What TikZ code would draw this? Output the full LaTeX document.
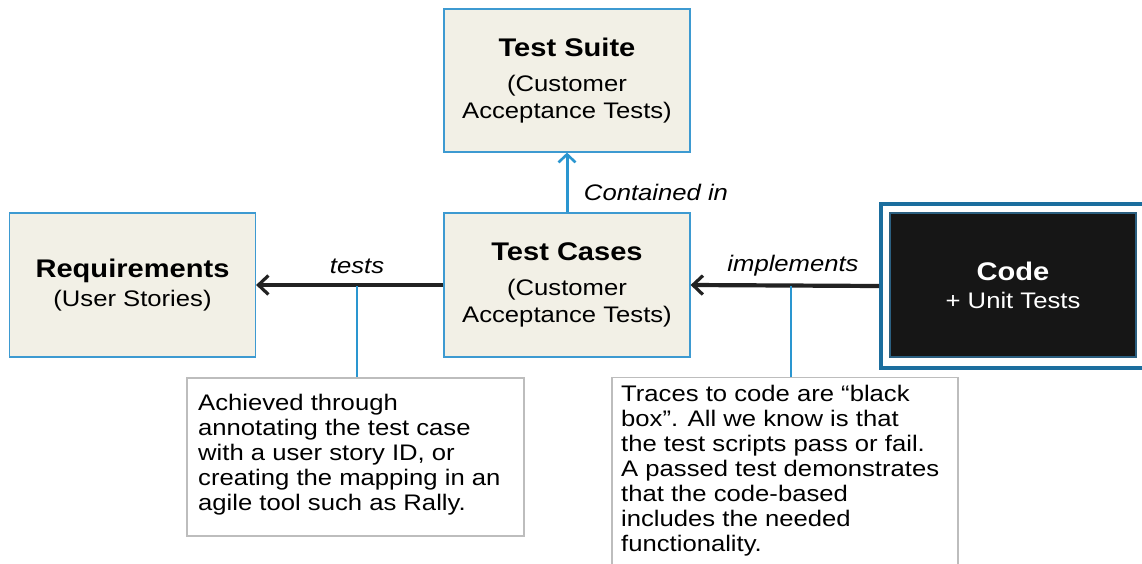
\documentclass[tikz,border=0pt]{standalone}
\usepackage{fontspec}
\setmainfont[FakeStretch=1.14]{Liberation Sans}
\usetikzlibrary{arrows.meta,calc}
\definecolor{boxfill}{HTML}{F2F0E6}
\definecolor{boxline}{HTML}{3D9AD1}
\definecolor{notegray}{HTML}{BDBDBD}
\definecolor{bluearrow}{HTML}{2A96D0}
\definecolor{codeframe}{HTML}{1B6E9E}
\definecolor{codefill}{HTML}{161616}
\definecolor{codeline}{HTML}{2B5F80}
\definecolor{arrowblack}{HTML}{222222}
\tikzset{
  mainbox/.style={draw=boxline, line width=1.2pt, fill=boxfill, rectangle, align=center,
    inner sep=0pt, minimum width=246pt, minimum height=144pt,
    font=\fontsize{22.5}{27}\selectfont},
  notebox/.style={draw=notegray, line width=1.2pt, fill=white},
  notetext/.style={align=left, inner sep=0pt, font=\fontsize{22.5}{25}\selectfont, text=black},
  relarrow/.style={draw=arrowblack, line width=4.2pt, -{Straight Barb[length=10pt,width=19pt,line width=3.2pt]}},
  bluearr/.style={draw=bluearrow, line width=3pt, -{Straight Barb[length=8pt,width=17pt,line width=2.6pt]}},
  bluelink/.style={draw=bluearrow, line width=1.3pt},
  rellabel/.style={font=\itshape\fontsize{22.5}{27}\selectfont, inner sep=0pt},
  titlefont/.style={}
}
\newcommand{\ttl}[1]{{\bfseries\fontsize{25.5}{30}\selectfont #1}}
\begin{document}
\begin{tikzpicture}[x=1pt,y=-1pt]
\useasboundingbox (0,0) rectangle (1142,564);
\clip (0,0) rectangle (1142,564);
\fill[white] (0,0) rectangle (1142,564);

% main boxes
\node[mainbox] (req) at (132.5,285) {\ttl{Requirements}\\[2pt](User Stories)};
\node[mainbox] (tc) at (567,285) {\ttl{Test Cases}\\[8pt](Customer\\Acceptance Tests)};
\node[mainbox, minimum height=143pt] (ts) at (567,80.5) {\ttl{Test Suite}\\[8pt](Customer\\Acceptance Tests)};

% code box
\node[draw=codeframe, line width=4pt, fill=white, rectangle, minimum width=269pt, minimum height=164pt, inner sep=0pt] (frame) at (1015.5,286) {};
\node[draw=codeline, line width=1.2pt, fill=codefill, rectangle, minimum width=246pt, minimum height=144pt, inner sep=0pt,
  text=white, align=center, font=\fontsize{22.5}{27}\selectfont] (code) at (1013,285) {\ttl{Code}\\[1pt]+ Unit Tests};

% arrows
\draw[relarrow] (tc.west) -- (req.east);
\draw[relarrow] (frame.west) -- (tc.east);
\draw[bluearr] (tc.north) -- (ts.south);

% labels
\node[rellabel] (lbltests) at (357,266) {tests};
\node[rellabel] (lblimpl) at (793,266) {implements};
\node[rellabel] (lblcont) at (656,192) {Contained in};

% notes
\node[notebox, rectangle, minimum width=337pt, minimum height=158pt, inner sep=0pt] (note1) at (355.5,457) {};
\node[notetext, anchor=north west] (note1txt) at (198,394) {Achieved through\\annotating the test case\\with a user story ID, or\\creating the mapping in an\\agile tool such as Rally.};

\node[notebox, rectangle, minimum width=346pt, minimum height=230pt, inner sep=0pt, anchor=north] (note2) at (785,377) {};
\node[notetext, anchor=north west] (note2txt) at (621,385) {Traces to code are “black\\box”.  All we know is that\\the test scripts pass or fail.\\A passed test demonstrates\\that the code-based\\includes the needed\\functionality.};

% links from arrows to notes
\coordinate (tap1) at (357,286);
\coordinate (tap2) at (791,286);
\draw[bluelink] (tap1) -- (tap1 |- note1.north);
\draw[bluelink] (tap2) -- (tap2 |- note2.north);
\end{tikzpicture}
\end{document}
